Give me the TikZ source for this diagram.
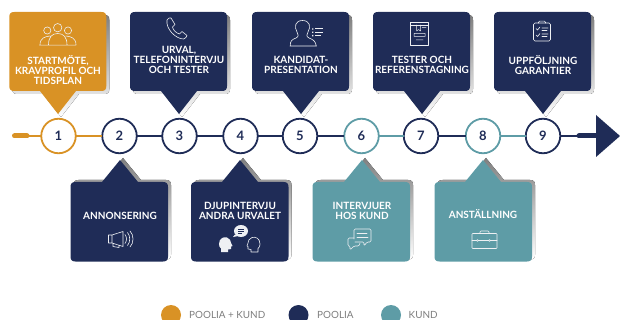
\documentclass[tikz,border=0pt]{standalone}
\usepackage{fontspec}
\setmainfont{Lato}
\definecolor{gold}{HTML}{D99225}
\definecolor{navy}{HTML}{1F2C57}
\definecolor{teal2}{HTML}{5E9CA6}
\definecolor{shade}{HTML}{D6D6D6}
\definecolor{legendtxt}{HTML}{7E7E7E}
\definecolor{iconw}{HTML}{EEF0F3}
\tikzset{
  numcirc/.style={circle,draw=#1,line width=1.8pt,fill=white,minimum size=34.5pt,inner sep=0pt,outer sep=0pt,text=navy,font=\fontsize{13}{13}\selectfont\bfseries},
  lbl/.style={text=white,align=center,font=\fontsize{10}{10}\selectfont\bfseries,inner sep=0pt},
  leg/.style={text=legendtxt,anchor=west,font=\fontsize{9.9}{10}\selectfont,inner sep=0pt},
  legdot/.style={circle,fill=#1,minimum size=20pt,inner sep=0pt},
  conn/.style={draw=#1,line width=1.6pt},
  ico/.style={draw=iconw,line width=0.6pt,line join=round,line cap=round},
}
\newcommand{\topcall}[3]{% left, tip offset, colour
  \begin{scope}[shift={(#1,0)}]
    \foreach \c/\dx/\dy in {shade/3/3,#3/0/0}{
      \fill[\c,shift={(\dx,\dy)}] (5,12) -- (92,12) .. controls (95.5,12) and (97,13.5) .. (97,17) -- (97,86) .. controls (97,89.5) and (95.5,91) .. (92,91) -- (#2+18,91) -- (#2,114) -- (#2-18,91) -- (5,91) .. controls (1.5,91) and (0,89.5) .. (0,86) -- (0,17) .. controls (0,13.5) and (1.5,12) .. (5,12) -- cycle;
    }
  \end{scope}}
\newcommand{\botcall}[3]{%
  \begin{scope}[shift={(#1,0)}]
    \foreach \c/\dx/\dy in {shade/3/-2,#3/0/0}{
      \fill[\c,shift={(\dx,\dy)}] (5,182) -- (#2-18,182) -- (#2,160) -- (#2+18,182) -- (92.5,182) .. controls (96,182) and (97.5,183.5) .. (97.5,187) -- (97.5,256.5) .. controls (97.5,260) and (96,261.5) .. (92.5,261.5) -- (5,261.5) .. controls (1.5,261.5) and (0,260) .. (0,256.5) -- (0,187) .. controls (0,183.5) and (1.5,182) .. (5,182) -- cycle;
    }
  \end{scope}}
\begin{document}
\begin{tikzpicture}[x=1pt,y=-1pt]
\useasboundingbox (0,0) rectangle (620,320);
\clip (0,0) rectangle (620,320);
% callouts
\topcall{9.3}{48.7}{gold}
\topcall{130}{49}{navy}
\topcall{252}{49}{navy}
\topcall{373}{49}{navy}
\topcall{494}{49}{navy}
\botcall{70.5}{49.5}{navy}
\botcall{191}{49}{navy}
\botcall{312.5}{49.5}{teal2}
\botcall{434.5}{48.5}{teal2}
% timeline
\coordinate (startpt) at (27,136);
\coordinate (endpt) at (580,136);
\node[numcirc=gold] (n1) at (58.5,136) {1};
\node[numcirc=navy] (n2) at (119.5,136) {2};
\node[numcirc=navy] (n3) at (179.5,136) {3};
\node[numcirc=navy] (n4) at (240.5,136) {4};
\node[numcirc=navy] (n5) at (300,136) {5};
\node[numcirc=teal2] (n6) at (361.5,136) {6};
\node[numcirc=navy] (n7) at (421,136) {7};
\node[numcirc=teal2] (n8) at (483,136) {8};
\node[numcirc=navy] (n9) at (543,136) {9};
\draw[conn=gold] (startpt) -- (n1);
\draw[conn=gold] (n1) -- (n2);
\draw[conn=navy] (n2) -- (n3);
\draw[conn=navy] (n3) -- (n4);
\draw[conn=navy] (n4) -- (n5);
\draw[conn=navy] (n5) -- (n6);
\draw[conn=teal2] (n6) -- (n7);
\draw[conn=navy] (n7) -- (n8);
\draw[conn=teal2] (n8) -- (n9);
\draw[conn=navy] (n9) -- (endpt);
\draw[gold,line width=5pt,line cap=round] (14.5,136) -- (startpt);
\draw[navy,line width=5pt,line cap=round] (579,136) -- (600,136);
\fill[navy] (596,115) -- (620,136) -- (596,157) -- cycle;
% labels
\node[lbl] (t1) at (58,69.7) {STARTMÖTE,\\KRAVPROFIL OCH\\TIDSPLAN};
\node[lbl] (t3) at (179,59.7) {URVAL,\\TELEFONINTERVJU\\OCH TESTER};
\node[lbl] (t5) at (301,64.7) {KANDIDAT-\\PRESENTATION};
\node[lbl] (t7) at (422,64.7) {TESTER OCH\\REFERENSTAGNING};
\node[lbl] (t9) at (543,64.7) {UPPFÖLJNING\\GARANTIER};
\node[lbl] (t2) at (120,215.5) {ANNONSERING};
\node[lbl] (t4) at (240,210.5) {DJUPINTERVJU\\ANDRA URVALET};
\node[lbl] (t6) at (362,210.5) {INTERVJUER\\HOS KUND};
\node[lbl] (t8) at (483,214.5) {ANSTÄLLNING};
% people icon
\draw[ico] (47.3,30.5) circle (3.6) (68,30.5) circle (3.6) (57.7,27.7) circle (4.2);
\draw[ico] (40,45) .. controls (40,38) and (45,36.5) .. (50,36) (76,45) .. controls (76,38) and (71,36.5) .. (66,36)
  (48.5,45) .. controls (48.5,37) and (52,33.5) .. (57.7,33.5) .. controls (63.5,33.5) and (67,37) .. (67,45)
  (39.5,45.2) -- (76,45.2);
% phone icon
\draw[ico] (167,20) .. controls (168,18) and (170,17.5) .. (171,18) -- (175,24.5) -- (172.5,27) .. controls (173,30) and (176,33) .. (179.5,34) -- (182,31.5) -- (187,35.5) .. controls (187,37) and (185,38.5) .. (183.5,39) .. controls (176,39) and (165.5,29) .. (167,20) -- cycle;
% candidate icon
\draw[ico] (290,46) -- (316.5,46) (290.3,46) .. controls (290,41) and (292,39.5) .. (296,38) .. controls (299,36.5) and (298.5,34.5) .. (297,32) .. controls (294,27) and (295,20.5) .. (302.5,20.5) .. controls (310,20.5) and (311,27) .. (308,32) .. controls (306.5,34.5) and (306,36.5) .. (309,38) .. controls (313,39.5) and (315.5,41) .. (316.3,46);
\draw[iconw,line width=1pt] (315,29) -- (323,29) (315,32.3) -- (323,32.3) (315,35.6) -- (321,35.6);
\fill[iconw] (312,28.3) rectangle (313.4,29.7) (312,31.6) rectangle (313.4,33) (312,34.9) rectangle (313.4,36.3);
% document icon
\draw[ico,line width=0.5pt] (410.5,22.5) rectangle (428.5,45.5) (410.5,25) -- (428.5,25);
\draw[ico,line width=0.5pt] (416.5,25) -- (416.5,31) -- (418.5,29.5) -- (420.5,31) -- (420.5,25) (414,33.5) rectangle (425,36.5) (416,40) -- (423,40) (422,27.5) -- (426,27.5);
% clipboard icon
\draw[ico,rounded corners=1.5pt] (533.5,23) rectangle (550.5,41);
\draw[ico,rounded corners=1pt] (538.5,23) -- (538.5,21.2) -- (545.5,21.2) -- (545.5,23);
\draw[ico] (536,28.5) -- (537.5,30) -- (540,27) (536,35) -- (537.5,36.5) -- (540,33.5) (542,28) -- (548,28) (542,30.5) -- (547,30.5) (542,34) -- (548,34) (542,36.5) -- (547,36.5);
% megaphone icon
\draw[ico] (108.5,235) -- (112,235) -- (123,231.5) -- (123,246.5) -- (112,243) -- (108.5,243) -- cycle (112,235) -- (112,243) (113,243.5) -- (113,246.5) -- (119,247.5) -- (119,245.5);
\draw[ico] (125,234.5) .. controls (127,237) and (127,241) .. (125,243.5) (127.5,232.5) .. controls (130.5,236) and (130.5,242) .. (127.5,245.5) (130,231) .. controls (134,235) and (134,243) .. (130,247);
% heads icon
\fill[iconw] (219,244) .. controls (219,238) and (224,236.5) .. (227,237.5) .. controls (230,238.5) and (231,241) .. (231,243) -- (232.5,246) -- (231,246.5) -- (231,249) -- (228,249.5) -- (228,252) -- (221,252) -- (221,248.5) .. controls (219.5,247.5) and (219,246) .. (219,244) -- cycle;
\draw[ico] (260,244) .. controls (260,238) and (255,236.5) .. (252,237.5) .. controls (249,238.5) and (248,241) .. (248,243) -- (247,246) -- (248,246.5) -- (248,249) -- (251,249.5) -- (251,252) -- (258,252) -- (258,248.5) .. controls (259.5,247.5) and (260,246) .. (260,244) -- cycle;
\fill[iconw] (241,231) ellipse (7 and 6);
\fill[iconw] (235,234.5) -- (233,237) -- (238,236) -- cycle;
\draw[navy,line width=0.6pt] (238,229.5) -- (244,229.5) (238,231.5) -- (244,231.5) (238,233.5) -- (242,233.5);
% chat icon
\draw[ico,rounded corners=1.2pt] (354,239) -- (354,229) -- (371,229) -- (371,242) -- (367,242) -- (364,246) -- (364,242) -- (355,242);
\draw[ico,rounded corners=1.2pt] (354,238) -- (348,238) -- (348,246) -- (350,246) -- (350,250) -- (354,246) -- (359,246) -- (360,243);
\draw[ico] (357,233) -- (367,233) (357,237) -- (368,237);
% briefcase icon
\draw[ico,rounded corners=0.8pt] (472,233.5) rectangle (497,248.5);
\draw[ico,rounded corners=1pt] (480,233.5) -- (480,231) -- (489,231) -- (489,233.5);
\draw[ico] (472,240.5) -- (476.5,240.5) (478.5,240.5) -- (488.5,240.5) (490.5,240.5) -- (497,240.5) (477.5,240.5) circle (1) (489.5,240.5) circle (1);
% legend
\node[legdot=gold] (l1) at (171,315) {};
\node[leg] (lt1) at (189,315) {POOLIA + KUND};
\node[legdot=navy] (l2) at (298.5,315) {};
\node[leg] (lt2) at (317,315) {POOLIA};
\node[legdot=teal2] (l3) at (391,315) {};
\node[leg] (lt3) at (408.5,315) {KUND};
\end{tikzpicture}
\end{document}
